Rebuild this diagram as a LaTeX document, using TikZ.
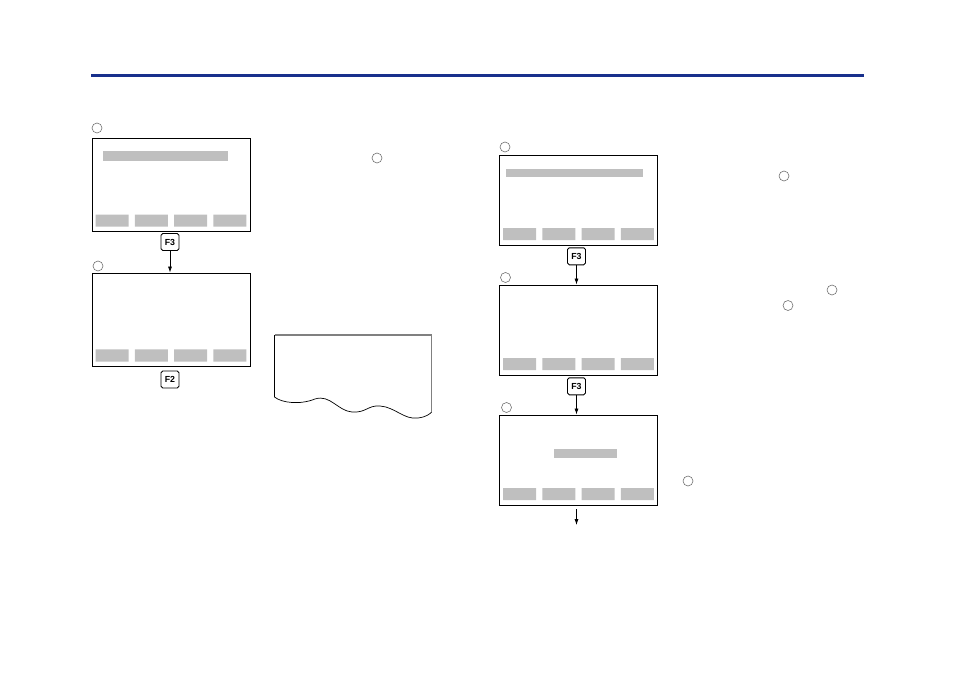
\documentclass[tikz,border=0pt]{standalone}
\usepackage{fontspec}
\setmainfont{Liberation Sans}
\usepackage{tikz}
\usetikzlibrary{calc}
\usetikzlibrary{arrows.meta}
\definecolor{myblue}{RGB}{24,48,140}
\definecolor{mygray}{RGB}{191,191,191}
\definecolor{mymark}{RGB}{110,110,110}
\tikzset{
  key/.style={draw, line width=0.8pt, rounded corners=1.5pt, inner sep=0pt,
    minimum width=5.4mm, minimum height=5.1mm, font=\bfseries\fontsize{7.5}{8}\selectfont},
  frame/.style={draw, line width=0.8pt},
  bar/.style={fill=mygray},
  markring/.style={draw=mymark, line width=0.5pt},
  flow/.style={-{Latex[length=5pt,width=3.4pt]}, line width=0.6pt}
}
% screen with the four soft keys: #1 = upper left corner, #2 = height
\newcommand{\softscreen}[2]{%
  \draw[frame] (#1) rectangle ($(#1)+(158,#2)$);
  \fill[bar] foreach \b in {0,1,2,3}{($(#1)+(3.5+39.3*\b,#2-17)$) rectangle ++(33,12.2)};
}
\begin{document}
\begin{tikzpicture}[x=0.3mm, y=-0.3mm]
      \useasboundingbox (0,0) rectangle (954,674);
      \fill[myblue] (91,74.5) rectangle (863.5,77.5);

      % left column
      \coordinate (A) at (92,138);
      \coordinate (B) at (92,273.5);
      \softscreen{A}{93.5}
      \softscreen{B}{92.8}
      \fill[bar] (103,151) rectangle (228,160.5);
      \node[key] (f3l) at (170,242) {F3};
      \node[key] (f2l) at (170,379.5) {F2};
      \coordinate (Btop) at (170,272.5);
      \draw[flow] (f3l) -- (Btop);
      \draw[markring] foreach \p in {(97,128),(98,266)}{\p circle [radius=5]};

      % middle
      \draw[markring] (377,158) circle [radius=5];
      \draw[line width=0.6pt] (274.5,335) -- (274.5,397)
        .. controls (282,403) and (300,405) .. (315,399)
        .. controls (330,394) and (338,411) .. (352,412)
        .. controls (366,413) and (368,405) .. (380,406)
        .. controls (395,407) and (404,420) .. (418,418)
        .. controls (426,417) and (430,414) .. (431.5,412);
      \draw[gray, line width=0.9pt] (274.5,335) -- (431.5,335) -- (431.5,412);

      % right column
      \coordinate (C) at (499.5,155.7);
      \coordinate (D) at (499.5,285.7);
      \coordinate (E) at (499.5,415.7);
      \softscreen{C}{89.3}
      \softscreen{D}{89.3}
      \softscreen{E}{89.3}
      \fill[bar] (506,168.5) rectangle (643,176.5);
      \fill[bar] (554,449) rectangle (617,457.5);
      \node[key] (f3a) at (576.5,256.3) {F3};
      \node[key] (f3b) at (576.5,386.3) {F3};
      \coordinate (Dtop) at (576.5,284.5);
      \coordinate (Etop) at (576.5,414.5);
      \coordinate (Ebot) at (576.5,509);
      \coordinate (out) at (576.5,525);
      \draw[flow] (f3a) -- (Dtop);
      \draw[flow] (f3b) -- (Etop);
      \draw[flow] (Ebot) -- (out);
      \draw[markring] foreach \p in {(505,147),(505.5,277.5),(506.5,407.5)}{\p circle [radius=5]};

      % marks in the right text
      \draw[markring] foreach \p in {(784,176),(832,290),(788,305.5),(688,481)}{\p circle [radius=5]};
    \end{tikzpicture}
\end{document}
